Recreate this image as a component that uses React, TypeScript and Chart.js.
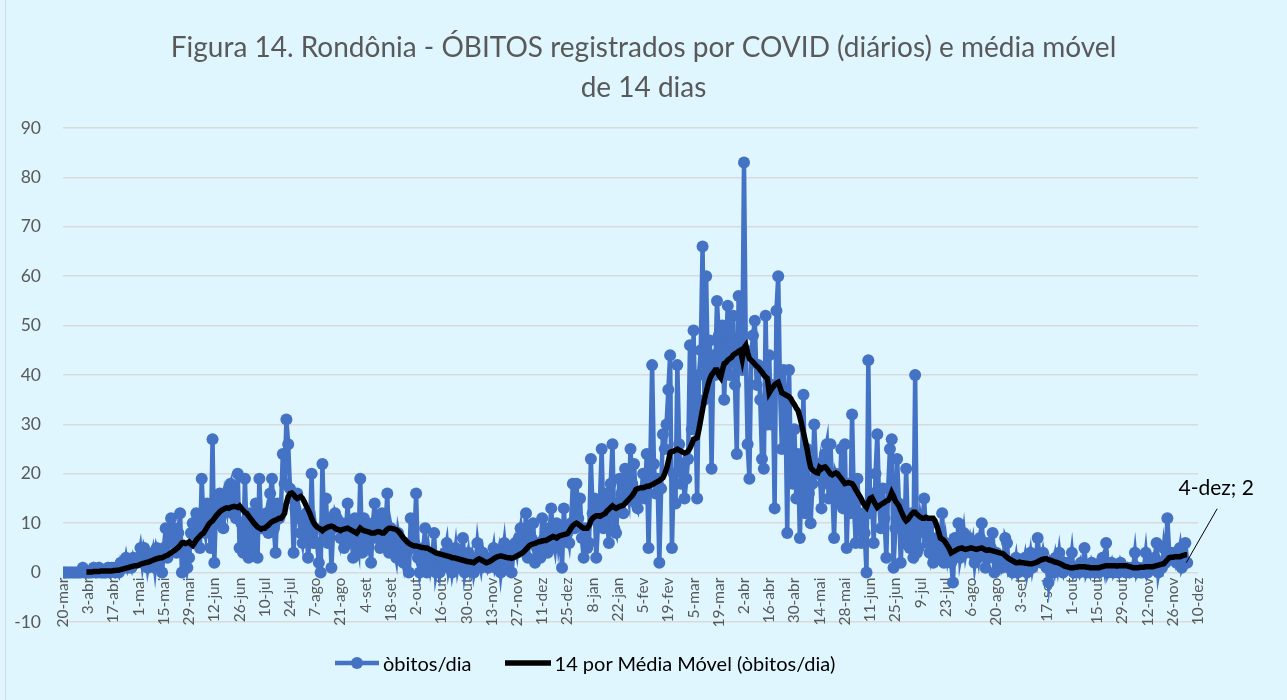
import React, { useEffect, useRef } from 'react';
import { Chart, registerables } from 'chart.js';

Chart.register(...registerables);

// ---------- DATA ----------
const TITLE_LINES = [
  'Figura 14. Rondônia - ÓBITOS registrados por COVID (diários) e média móvel',
  'de 14 dias',
];

const SERIES_DAILY_NAME = 'òbitos/dia';
const SERIES_MA_NAME = '14 por Média Móvel (òbitos/dia)';
const CALLOUT_TEXT = '4-dez; 2';

// tick labels every 14 days, starting 20-mar-2020
const X_LABELS = [
  '20-mar', '3-abr', '17-abr', '1-mai', '15-mai', '29-mai', '12-jun', '26-jun', '10-jul', '24-jul',
  '7-ago', '21-ago', '4-set', '18-set', '2-out', '16-out', '30-out', '13-nov', '27-nov', '11-dez',
  '25-dez', '8-jan', '22-jan', '5-fev', '19-fev', '5-mar', '19-mar', '2-abr', '16-abr', '30-abr',
  '14-mai', '28-mai', '11-jun', '25-jun', '9-jul', '23-jul', '6-ago', '20-ago', '3-set', '17-set',
  '1-out', '15-out', '29-out', '12-nov', '26-nov', '10-dez',
];
const DAYS_PER_TICK = 14;

// daily deaths, 20-mar-2020 .. 4-dez-2021 (one row = 14 days)
const DAILY_DEATHS = [
  0, 0, 0, 0, 0, 0, 0, 0, 0, 0, 0, 1, 0, 0,
  0, 0, 0, 1, 0, 0, 1, 0, 0, 0, 0, 1, 0, 1,
  1, 0, 1, 0, 2, 1, 1, 3, 1, 2, 1, 3, 2, 2,
  3, 5, 2, 5, 4, 1, 3, 2, 4, 1, 5, 4, 3, 0,
  5, 9, 3, 7, 11, 6, 9, 4, 8, 12, 0, 5, 4, 1,
  3, 8, 10, 6, 12, 9, 5, 19, 10, 8, 14, 11, 5, 27,
  2, 14, 10, 16, 12, 9, 15, 13, 17, 18, 12, 16, 11, 20,
  5, 10, 4, 19, 6, 3, 12, 8, 5, 14, 3, 19, 9, 9,
  10, 12, 8, 16, 19, 9, 4, 14, 11, 13, 24, 18, 31, 26,
  17, 15, 4, 13, 16, 11, 8, 6, 9, 12, 3, 7, 20, 6,
  9, 6, 2, 0, 22, 8, 15, 6, 11, 1, 9, 12, 11, 10,
  7, 10, 5, 8, 14, 6, 9, 3, 11, 7, 5, 19, 4, 11,
  8, 6, 9, 2, 10, 14, 7, 11, 5, 12, 6, 9, 16, 4,
  9, 7, 5, 3, 8, 6, 4, 2, 6, 5, 0, 11, 5, 6,
  16, 3, 0, 2, 5, 9, 0, 4, 1, 3, 8, 0, 2, 0,
  3, 2, 4, 6, 1, 3, 0, 2, 5, 1, 3, 2, 7, 0,
  2, 4, 1, 3, 0, 2, 6, 3, 1, 4, 2, 3, 1, 2,
  3, 5, 1, 2, 4, 0, 3, 6, 2, 1, 5, 0, 4, 6,
  4, 7, 9, 5, 6, 12, 3, 8, 7, 10, 2, 5, 6, 3,
  11, 6, 9, 4, 8, 13, 7, 5, 10, 6, 9, 1, 13, 7,
  8, 6, 10, 18, 9, 18, 11, 15, 7, 3, 9, 5, 6, 23,
  12, 15, 3, 10, 14, 25, 9, 16, 11, 6, 18, 26, 9, 8,
  14, 19, 16, 12, 21, 17, 15, 25, 18, 22, 14, 13, 16, 16,
  20, 15, 24, 5, 22, 42, 22, 16, 19, 2, 17, 28, 25, 30,
  37, 44, 5, 20, 14, 42, 26, 18, 22, 15, 19, 23, 46, 29,
  49, 32, 15, 40, 45, 66, 35, 60, 38, 47, 21, 44, 40, 55,
  48, 42, 50, 35, 46, 54, 40, 47, 52, 38, 24, 56, 43, 41,
  83, 45, 26, 19, 44, 48, 51, 38, 42, 35, 23, 21, 52, 30,
  44, 30, 38, 13, 53, 60, 37, 25, 41, 34, 8, 41, 22, 18,
  29, 15, 24, 7, 20, 36, 12, 25, 16, 10, 18, 30, 21, 20,
  22, 13, 18, 24, 26, 15, 26, 17, 7, 20, 19, 14, 25, 13,
  26, 5, 18, 12, 32, 14, 6, 19, 10, 6, 12, 8, 0, 43,
  12, 16, 6, 20, 28, 14, 9, 17, 11, 3, 17, 25, 27, 1,
  9, 23, 14, 2, 10, 6, 21, 8, 5, 12, 3, 40, 4, 5,
  11, 9, 15, 8, 6, 4, 10, 2, 5, 7, 3, 4, 12, 2,
  6, 3, 5, 2, -2, 7, 4, 10, 3, 5, 8, 4, 6, 7,
  4, 6, 2, 5, 3, 7, 10, 4, 1, 6, 3, 5, 8, 0,
  4, 3, 3, 1, 2, 7, 6, 1, 2, 0, 1, 3, 0, 1,
  2, 1, 3, 0, 2, 4, 1, 3, 2, 7, 3, 2, 4, 2,
  1, -2, 2, 1, 0, 3, 1, 4, 1, 0, 2, 1, 2, 1,
  4, 0, 1, 1, 0, 2, 1, 5, 0, 1, 0, 2, 1, 0,
  1, 0, 2, 3, 1, 6, 0, 1, 2, 0, 1, 1, 0, 2,
  1, 1, 0, 1, 0, 1, 1, 4, 0, 1, 0, 0, 1, 4,
  0, 1, 2, 1, 3, 6, 0, 2, 1, 5, 2, 11, 4, 4,
  3, 4, 2, 3, 5, 1, 2, 6, 2,
];

// 14-day moving average (one row = 14 days)
const MOVING_AVG_14 = [
  null, null, null, null, null, null, null, null, null, null, null, null, null, 0.1,
  0.1, 0.1, 0.1, 0.2, 0.2, 0.2, 0.2, 0.3, 0.3, 0.3, 0.3, 0.3, 0.3, 0.3,
  0.4, 0.4, 0.5, 0.5, 0.6, 0.7, 0.8, 0.9, 1.0, 1.1, 1.2, 1.3, 1.4, 1.4,
  1.5, 1.7, 1.8, 1.9, 2.0, 2.1, 2.2, 2.4, 2.5, 2.7, 2.8, 2.9, 3.0, 3.0,
  3.2, 3.4, 3.5, 3.8, 4.0, 4.3, 4.5, 4.8, 5.1, 5.5, 6.0, 6.1, 5.9, 6.0,
  6.2, 5.8, 5.5, 6.0, 6.6, 7.0, 7.4, 7.8, 8.0, 8.6, 9.2, 9.8, 10.2, 10.5,
  11.0, 11.5, 11.9, 12.3, 12.6, 12.8, 13.0, 13.1, 13.0, 13.2, 13.3, 13.4, 13.3, 13.2,
  13.5, 13.0, 12.6, 12.2, 12.0, 11.5, 11.0, 10.5, 10.0, 9.6, 9.2, 9.0, 8.8, 9.0,
  9.0, 9.3, 9.6, 10.0, 10.3, 10.5, 10.6, 10.8, 11.0, 11.0, 11.4, 12.0, 14.0, 15.4,
  16.0, 16.1, 15.8, 15.3, 15.0, 15.2, 15.4, 15.0, 14.3, 13.5, 12.8, 12.0, 11.0, 10.2,
  9.6, 9.2, 9.0, 8.8, 8.5, 8.8, 9.0, 9.2, 9.3, 9.4, 9.3, 9.0, 8.8, 8.7,
  8.5, 8.7, 8.8, 8.9, 9.0, 8.8, 8.6, 8.4, 8.2, 8.0, 8.5, 9.0, 8.7, 8.5,
  8.4, 8.3, 8.2, 8.0, 8.0, 8.0, 8.2, 8.3, 8.2, 8.0, 8.0, 8.4, 8.8, 9.0,
  9.0, 8.9, 8.8, 8.7, 8.4, 8.0, 7.5, 7.0, 6.6, 6.2, 5.9, 5.7, 5.5, 5.4,
  5.4, 5.3, 5.2, 5.1, 5.1, 5.0, 5.0, 4.8, 4.6, 4.4, 4.2, 4.0, 3.9, 3.8,
  3.7, 3.6, 3.5, 3.4, 3.3, 3.2, 3.0, 3.0, 2.9, 2.8, 2.7, 2.6, 2.5, 2.4,
  2.3, 2.2, 2.2, 2.1, 2.0, 2.3, 2.6, 2.8, 2.6, 2.4, 2.2, 2.0, 2.1, 2.3,
  2.5, 2.8, 3.0, 3.2, 3.3, 3.4, 3.3, 3.2, 3.1, 3.0, 3.0, 2.9, 3.0, 3.2,
  3.4, 3.6, 3.8, 4.0, 4.3, 4.7, 5.1, 5.5, 5.7, 5.8, 5.9, 6.1, 6.2, 6.3,
  6.4, 6.5, 6.5, 6.7, 6.9, 7.1, 7.3, 7.2, 7.0, 7.3, 7.5, 7.6, 7.7, 7.8,
  7.9, 8.4, 9.0, 9.5, 9.8, 10.0, 9.8, 9.5, 9.2, 9.0, 9.0, 9.0, 9.5, 10.5,
  11.0, 11.3, 11.5, 11.5, 11.4, 11.6, 11.8, 12.0, 12.5, 12.8, 13.2, 13.5, 13.2, 13.0,
  13.2, 13.4, 13.5, 13.6, 14.0, 14.4, 14.8, 15.2, 15.6, 16.2, 16.8, 17.0, 17.1, 17.2,
  17.2, 17.3, 17.5, 17.5, 17.6, 17.8, 18.0, 18.2, 18.4, 18.6, 18.9, 19.2, 20.0, 21.0,
  22.5, 24.3, 24.5, 24.6, 24.8, 25.0, 24.8, 24.6, 24.4, 24.2, 24.3, 24.6, 25.2, 26.0,
  27.0, 27.1, 27.3, 29.0, 31.0, 33.0, 35.0, 36.5, 38.0, 39.2, 40.0, 40.5, 41.0, 41.0,
  40.0, 39.5, 41.0, 42.3, 42.5, 43.0, 43.3, 43.5, 44.0, 44.3, 44.5, 44.8, 45.0, 43.3,
  45.5, 46.0, 44.5, 43.3, 43.0, 42.6, 42.2, 41.8, 41.5, 41.0, 40.6, 40.0, 39.6, 39.3,
  36.4, 37.0, 37.5, 38.0, 38.3, 38.5, 37.5, 36.4, 36.2, 36.0, 35.8, 35.6, 35.2, 34.5,
  34.0, 33.3, 32.8, 31.5, 30.0, 28.3, 26.7, 25.0, 23.0, 21.3, 20.8, 20.5, 20.3, 20.2,
  21.3, 21.0, 21.3, 21.4, 21.0, 20.5, 20.0, 19.8, 20.0, 20.2, 20.0, 19.5, 19.0, 18.5,
  18.0, 18.1, 18.2, 18.1, 18.0, 17.5, 16.8, 16.2, 15.6, 15.0, 14.2, 13.6, 13.2, 14.2,
  15.0, 15.2, 14.5, 13.8, 13.2, 13.5, 13.8, 14.0, 14.2, 14.5, 14.6, 15.2, 16.2, 15.5,
  14.5, 14.0, 13.5, 12.6, 11.8, 11.0, 10.5, 10.8, 11.3, 11.8, 12.2, 12.2, 11.8, 11.5,
  11.2, 11.0, 11.0, 11.2, 11.0, 11.0, 11.0, 11.0, 10.5, 9.5, 8.3, 7.0, 6.8, 6.5,
  6.0, 5.4, 4.8, 4.0, 4.2, 4.4, 4.6, 4.8, 4.9, 5.0, 4.8, 4.7, 4.8, 4.9,
  5.0, 4.9, 4.8, 4.7, 4.8, 4.9, 5.0, 4.8, 4.6, 4.5, 4.6, 4.5, 4.4, 4.3,
  4.2, 4.1, 4.0, 3.9, 3.8, 3.4, 3.1, 2.8, 2.6, 2.4, 2.2, 2.0, 2.0, 2.1,
  2.0, 2.0, 1.9, 1.9, 1.8, 1.8, 1.8, 1.9, 2.0, 2.2, 2.4, 2.6, 2.7, 2.8,
  2.8, 2.6, 2.5, 2.4, 2.2, 2.1, 2.0, 1.9, 1.7, 1.5, 1.3, 1.2, 1.1, 1.0,
  1.0, 1.0, 1.1, 1.1, 1.2, 1.2, 1.2, 1.2, 1.1, 1.1, 1.0, 1.0, 1.0, 1.0,
  1.0, 1.0, 1.1, 1.2, 1.3, 1.4, 1.4, 1.4, 1.4, 1.4, 1.4, 1.3, 1.4, 1.4,
  1.4, 1.4, 1.4, 1.3, 1.2, 1.1, 1.0, 1.0, 1.0, 1.0, 1.1, 1.1, 1.1, 1.2,
  1.2, 1.2, 1.2, 1.2, 1.3, 1.4, 1.5, 1.6, 1.7, 1.8, 2.2, 2.6, 3.0, 3.1,
  3.1, 3.2, 3.2, 3.2, 3.2, 3.4, 3.5, 3.6, 3.6,
];

const Y_MIN = -10;
const Y_MAX = 90;
const Y_STEP = 10;

// ---------- STYLE ----------
const FONT = 'Lato, "Open Sans", "Noto Sans", sans-serif';
const BG = '#E0F6FE';
const BLUE = '#4472C4';
const GRID = '#D9D9D9';
const AXIS_TEXT = '#595959';

const calloutPlugin = {
  id: 'lastPointCallout',
  afterDatasetsDraw(chart: any) {
    const meta = chart.getDatasetMeta(1);
    const pts = meta.data;
    if (!pts || !pts.length) return;
    const p = pts[pts.length - 1];
    const ctx = chart.ctx;
    ctx.save();
    ctx.strokeStyle = '#000000';
    ctx.lineWidth = 1;
    ctx.beginPath();
    ctx.moveTo(p.x - 1, p.y);
    ctx.lineTo(p.x + 30, p.y - 54);
    ctx.stroke();
    ctx.font = `21px ${FONT}`;
    ctx.fillStyle = '#000000';
    ctx.textAlign = 'center';
    ctx.textBaseline = 'middle';
    ctx.fillText(CALLOUT_TEXT, p.x + 29, p.y - 74);
    ctx.restore();
  },
};

export default function App() {
  const canvasRef = useRef<HTMLCanvasElement | null>(null);

  useEffect(() => {
    const canvas = canvasRef.current;
    if (!canvas) return;
    const dailyPoints = DAILY_DEATHS.map((v, i) => ({ x: i, y: v }));
    const maPoints = MOVING_AVG_14.map((v, i) => ({ x: i, y: v }));
    const lastDay = (X_LABELS.length - 1) * DAYS_PER_TICK;

    const chart = new Chart(canvas, {
      type: 'line',
      data: {
        datasets: [
          {
            label: SERIES_MA_NAME,
            data: maPoints as any,
            borderColor: '#000000',
            backgroundColor: '#000000',
            borderWidth: 5.5,
            pointRadius: 0,
            tension: 0,
            spanGaps: false,
            order: 0,
          },
          {
            label: SERIES_DAILY_NAME,
            data: dailyPoints as any,
            borderColor: BLUE,
            backgroundColor: BLUE,
            borderWidth: 4.5,
            pointRadius: 6,
            pointBorderWidth: 0,
            pointBackgroundColor: BLUE,
            tension: 0,
            order: 1,
          },
        ],
      },
      options: {
        responsive: false,
        animation: false,
        devicePixelRatio: 1,
        events: [],
        layout: { padding: { left: 0, right: 0, top: 0, bottom: 78 } },
        plugins: {
          legend: { display: false },
          tooltip: { enabled: false },
          title: {
            display: true,
            text: TITLE_LINES,
            color: AXIS_TEXT,
            font: { family: FONT, size: 28, weight: 'normal', lineHeight: 40 / 28 },
            padding: { top: 28, bottom: 20 },
          },
        },
        scales: {
          x: {
            type: 'linear',
            position: { y: 0 } as any,
            min: 0,
            max: lastDay,
            grid: { display: false, drawTicks: false },
            border: { display: false },
            ticks: {
              stepSize: DAYS_PER_TICK,
              maxTicksLimit: 100,
              autoSkip: false,
              minRotation: 90,
              maxRotation: 90,
              padding: 5,
              color: AXIS_TEXT,
              font: { family: FONT, size: 15.5 },
              callback: (value: any) => {
                const v = Number(value);
                if (v % DAYS_PER_TICK !== 0) return null;
                const lbl = X_LABELS[Math.round(v / DAYS_PER_TICK)];
                return lbl === undefined ? null : lbl;
              },
            },
          },
          y: {
            type: 'linear',
            position: 'left',
            min: Y_MIN,
            max: Y_MAX,
            grid: { color: GRID, lineWidth: 1.5, drawTicks: false },
            border: { display: false },
            ticks: {
              stepSize: Y_STEP,
              padding: 22,
              color: AXIS_TEXT,
              font: { family: FONT, size: 17.5 },
            },
            afterFit: (scale: any) => {
              scale.width = 63;
            },
          },
          yRight: {
            type: 'linear',
            position: 'right',
            display: true,
            grid: { display: false, drawTicks: false },
            border: { display: false },
            ticks: { display: false },
            afterFit: (scale: any) => {
              scale.width = 89;
            },
          },
        },
      },
      plugins: [calloutPlugin],
    });
    return () => chart.destroy();
  }, []);

  const legendText: React.CSSProperties = {
    fontFamily: FONT,
    fontSize: 20,
    color: '#000000',
    whiteSpace: 'nowrap',
  };

  return (
    <div
      style={{
        position: 'fixed',
        left: 0,
        top: 0,
        width: 1287,
        height: 700,
        background: BG,
        overflow: 'hidden',
      }}
    >
      <div style={{ position: 'absolute', left: 5, top: 0, bottom: 0, borderLeft: `1px solid ${GRID}` }} />
      <canvas ref={canvasRef} width={1287} height={700} style={{ position: 'absolute', left: 0, top: 0 }} />
      <div
        style={{
          position: 'absolute',
          left: 335,
          top: 650,
          height: 26,
          display: 'flex',
          alignItems: 'center',
        }}
      >
        <svg width={44} height={14}>
          <line x1={0} y1={7} x2={44} y2={7} stroke={BLUE} strokeWidth={4.5} />
          <circle cx={22} cy={7} r={6} fill={BLUE} />
        </svg>
        <span style={{ ...legendText, marginLeft: 4 }}>{SERIES_DAILY_NAME}</span>
        <svg width={46} height={14} style={{ marginLeft: 33 }}>
          <line x1={0} y1={7} x2={46} y2={7} stroke="#000000" strokeWidth={5.5} />
        </svg>
        <span style={{ ...legendText, marginLeft: 4 }}>{SERIES_MA_NAME}</span>
      </div>
    </div>
  );
}
